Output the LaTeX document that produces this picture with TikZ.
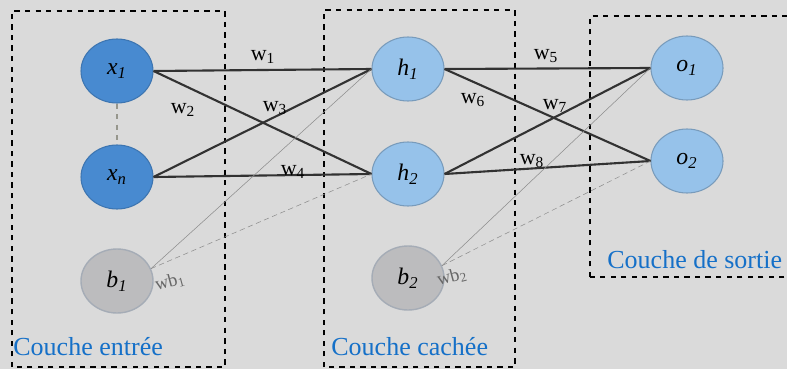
\documentclass[tikz,border=0pt]{standalone}
\usepackage{fontspec}
\setmainfont{Liberation Serif}
\usetikzlibrary{shapes.geometric}
\definecolor{fond}{RGB}{218,218,218}
\definecolor{bleufonce}{RGB}{72,138,208}
\definecolor{bleuclair}{RGB}{150,194,234}
\definecolor{grisbiais}{RGB}{188,188,190}
\definecolor{bordbiais}{RGB}{165,172,182}
\definecolor{bleutexte}{RGB}{21,112,200}
\definecolor{trait}{RGB}{50,50,50}
\definecolor{pointille}{RGB}{150,150,140}
\begin{document}
\begin{tikzpicture}[
	  neurone/.style={ ellipse, minimum width=1.44cm, minimum height=1.28cm, inner sep=0pt, font=\fontsize{13.5}{15}\selectfont\itshape },
	  entree/.style={ neurone, fill=bleufonce, draw=bleufonce!85!black, line width=0.6pt },
	  cache/.style={ neurone, fill=bleuclair, draw=bleuclair!80!black, line width=0.6pt },
	  biais/.style={ neurone, fill=grisbiais, draw=bordbiais, line width=0.8pt },
	  couche/.style={ draw, dashed, line width=0.8pt },
	  titre/.style={ anchor=west, inner sep=0pt, text=bleutexte, font=\fontsize{14.8}{17}\selectfont },
	  poids/.style={ inner sep=0pt, font=\fontsize{12.5}{14}\selectfont },
	  poidsb/.style={ inner sep=0pt, text=black!60, rotate=15, font=\fontsize{10.5}{12}\selectfont },
	  lien/.style={ draw=trait, line width=1.2pt },
	  lienb/.style={ draw=black!45, line width=0.3pt }
	]
	  \fill [ fond ] (0,0) rectangle (15.74,7.38);
	  \useasboundingbox (0,0) rectangle (15.74,7.38);

	  \draw [ couche ] (0.24,0.04) rectangle (4.50,7.16);
	  \draw [ couche ] (6.48,0.04) rectangle (10.30,7.18);
	  \draw [ couche ] (11.80,1.84) rectangle (15.80,7.06);

	  \node [ entree ] (x1) at (2.34,5.96) {x\textsubscript{1}};
	  \node [ entree ] (xn) at (2.34,3.84) {x\textsubscript{n}};
	  \node [ biais ] (b1) at (2.34,1.76) {b\textsubscript{1}};
	  \node [ cache ] (h1) at (8.16,6.00) {h\textsubscript{1}};
	  \node [ cache ] (h2) at (8.16,3.90) {h\textsubscript{2}};
	  \node [ biais ] (b2) at (8.16,1.82) {b\textsubscript{2}};
	  \node [ cache ] (o1) at (13.74,6.02) {o\textsubscript{1}};
	  \node [ cache ] (o2) at (13.74,4.16) {o\textsubscript{2}};

	  \draw [ dashed, draw=pointille, line width=1pt ] (x1.south)--(xn.north);

	  \draw [ lien ] (x1.east)--(h1.west);
	  \draw [ lien ] (x1.east)--(h2.west);
	  \draw [ lien ] (xn.east)--(h1.west);
	  \draw [ lien ] (xn.east)--(h2.west);
	  \draw [ lien ] (h1.east)--(o1.west);
	  \draw [ lien ] (h1.east)--(o2.west);
	  \draw [ lien ] (h2.east)--(o1.west);
	  \draw [ lien ] (h2.east)--(o2.west);

	  \draw [ lienb ] (b1.20)--(h1.west);
	  \draw [ lienb, densely dashed ] (b1.20)--(h2.west);
	  \draw [ lienb ] (b2.20)--(o1.west);
	  \draw [ lienb, densely dashed ] (b2.20)--(o2.west);

	  \node [ poids ] (w1) at (5.26,6.24) {w\textsubscript{1}};
	  \node [ poids ] (w2) at (3.66,5.18) {w\textsubscript{2}};
	  \node [ poids ] (w3) at (5.50,5.22) {w\textsubscript{3}};
	  \node [ poids ] (w4) at (5.86,3.94) {w\textsubscript{4}};
	  \node [ poids ] (w5) at (10.92,6.26) {w\textsubscript{5}};
	  \node [ poids ] (w6) at (9.46,5.38) {w\textsubscript{6}};
	  \node [ poids ] (w7) at (11.10,5.26) {w\textsubscript{7}};
	  \node [ poids ] (w8) at (10.64,4.16) {w\textsubscript{8}};
	  \node [ poidsb ] (wb1) at (3.40,1.74) {wb\textsubscript{1}};
	  \node [ poidsb ] (wb2) at (9.04,1.84) {wb\textsubscript{2}};

	  \node [ titre ] (entreetitre) at (0.26,0.44) {Couche entrée};
	  \node [ titre ] (cachetitre) at (6.62,0.44) {Couche cachée};
	  \node [ titre ] (sortietitre) at (12.14,2.18) {Couche de sortie};
	\end{tikzpicture}
\end{document}
